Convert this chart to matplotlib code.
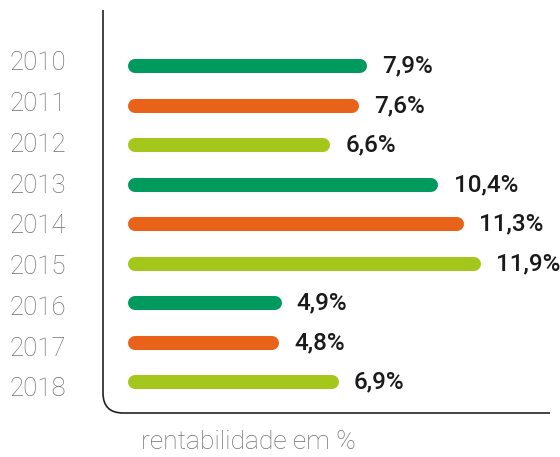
import matplotlib.pyplot as plt
from matplotlib.path import Path
from matplotlib.patches import PathPatch

# 데이터
years = ['2010', '2011', '2012', '2013', '2014', '2015', '2016', '2017', '2018']
values = [7.9, 7.6, 6.6, 10.4, 11.3, 11.9, 4.9, 4.8, 6.9]
labels = ['7,9%', '7,6%', '6,6%', '10,4%', '11,3%', '11,9%', '4,9%', '4,8%', '6,9%']
colors = ['#009a5e', '#e8621a', '#a5c71b'] * 3

W, H = 560, 457
fig = plt.figure(figsize=(W / 100, H / 100), dpi=100)

# 축 영역 (픽셀 기준)
x0, x1, y0, y1 = 103, 550, 10, 413
rect = [x0 / W, 1 - y1 / H, (x1 - x0) / W, (y1 - y0) / H]
ax = fig.add_axes(rect)
ax.set_xlim(-1.12, 14.56)
ax.set_ylim(8.78, -1.42)
ax.axis('off')

for i, (v, c, lab) in enumerate(zip(values, colors, labels)):
    ax.plot([0, v], [i, i], color=c, lw=10.1, solid_capstyle='round')
    ax.annotate(lab, (v, i), xytext=(16, 0), textcoords='offset points',
                ha='left', va='center', fontsize=17.5, color='#1a1a1a',
                family='Roboto', fontweight='medium')

# 연도 라벨 (간격이 막대와 약간 다름)
ax2 = fig.add_axes(rect)
ax2.set_ylim(8.64, -1.25)
ax2.set_xlim(0, 1)
for s in ax2.spines.values():
    s.set_visible(False)
ax2.patch.set_visible(False)
ax2.set_xticks([])
ax2.set_yticks(range(len(years)))
ax2.set_yticklabels(years, fontsize=18.5, color='#707070', family='Roboto', fontweight='light')
ax2.tick_params(axis='y', length=0, pad=47)
for t in ax2.get_yticklabels():
    t.set_horizontalalignment('center')

# 둥근 모서리 축선
r = 20
def fx(px):
    return px / W
def fy(py):
    return 1 - py / H
verts = [(fx(x0), fy(y0)), (fx(x0), fy(y1 - r)),
         (fx(x0), fy(y1)), (fx(x0 + r), fy(y1)),
         (fx(x1), fy(y1))]
codes = [Path.MOVETO, Path.LINETO, Path.CURVE3, Path.CURVE3, Path.LINETO]
fig.patches.append(PathPatch(Path(verts, codes), transform=fig.transFigure,
                             fill=False, lw=1.2, edgecolor='#222222'))

fig.text(248 / W, fy(442), 'rentabilidade em %', ha='center', va='center',
         fontsize=19, color='#707070', family='Roboto', fontweight='light')

plt.savefig('out.png', dpi=100)
